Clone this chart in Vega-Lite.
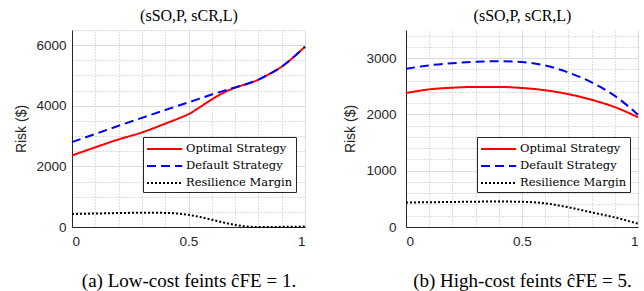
{
  "$schema": "https://vega.github.io/schema/vega-lite/v6.json",
  "padding": {"left": 14, "top": 7, "right": 5, "bottom": 0},
  "background": "white",
  "config": {
    "view": {"stroke": null},
    "axis": {"labelFont": "Liberation Sans", "labelFontSize": 13.5, "labelColor": "#262626", "titleFont": "Liberation Sans", "titleFontWeight": "normal", "titleColor": "#262626", "tickSize": 0, "domainColor": "#262626", "labelPadding": 7},
    "legend": {"labelFont": "DejaVu Serif", "labelFontSize": 11.5, "labelColor": "#000000", "fillColor": "white", "strokeColor": "#262626", "padding": 3, "rowPadding": 2, "symbolType": "M-1,0L3.4,0", "symbolSize": 256, "symbolStrokeWidth": 2, "symbolFillColor": "transparent", "labelOffset": 22, "cornerRadius": 0}
  },
  "datasets": {
    "a": [
      {"x": 0, "series": "Optimal Strategy", "risk": 2360},
      {"x": 0.1, "series": "Optimal Strategy", "risk": 2630},
      {"x": 0.2, "series": "Optimal Strategy", "risk": 2890},
      {"x": 0.3, "series": "Optimal Strategy", "risk": 3120},
      {"x": 0.35, "series": "Optimal Strategy", "risk": 3260},
      {"x": 0.4, "series": "Optimal Strategy", "risk": 3410},
      {"x": 0.45, "series": "Optimal Strategy", "risk": 3560},
      {"x": 0.5, "series": "Optimal Strategy", "risk": 3724},
      {"x": 0.55, "series": "Optimal Strategy", "risk": 3960},
      {"x": 0.6, "series": "Optimal Strategy", "risk": 4210},
      {"x": 0.65, "series": "Optimal Strategy", "risk": 4430},
      {"x": 0.7, "series": "Optimal Strategy", "risk": 4598},
      {"x": 0.75, "series": "Optimal Strategy", "risk": 4720},
      {"x": 0.8, "series": "Optimal Strategy", "risk": 4860},
      {"x": 0.85, "series": "Optimal Strategy", "risk": 5060},
      {"x": 0.9, "series": "Optimal Strategy", "risk": 5290},
      {"x": 0.95, "series": "Optimal Strategy", "risk": 5600},
      {"x": 1, "series": "Optimal Strategy", "risk": 5950},
      {"x": 0, "series": "Default Strategy", "risk": 2800},
      {"x": 0.1, "series": "Default Strategy", "risk": 3070},
      {"x": 0.2, "series": "Default Strategy", "risk": 3340},
      {"x": 0.3, "series": "Default Strategy", "risk": 3600},
      {"x": 0.4, "series": "Default Strategy", "risk": 3860},
      {"x": 0.5, "series": "Default Strategy", "risk": 4113},
      {"x": 0.6, "series": "Default Strategy", "risk": 4370},
      {"x": 0.65, "series": "Default Strategy", "risk": 4490},
      {"x": 0.7, "series": "Default Strategy", "risk": 4605},
      {"x": 0.75, "series": "Default Strategy", "risk": 4720},
      {"x": 0.8, "series": "Default Strategy", "risk": 4860},
      {"x": 0.85, "series": "Default Strategy", "risk": 5060},
      {"x": 0.9, "series": "Default Strategy", "risk": 5290},
      {"x": 0.95, "series": "Default Strategy", "risk": 5600},
      {"x": 1, "series": "Default Strategy", "risk": 5950},
      {"x": 0, "series": "Resilience Margin", "risk": 430},
      {"x": 0.1, "series": "Resilience Margin", "risk": 445},
      {"x": 0.2, "series": "Resilience Margin", "risk": 460},
      {"x": 0.3, "series": "Resilience Margin", "risk": 470},
      {"x": 0.4, "series": "Resilience Margin", "risk": 465},
      {"x": 0.5, "series": "Resilience Margin", "risk": 400},
      {"x": 0.55, "series": "Resilience Margin", "risk": 330},
      {"x": 0.6, "series": "Resilience Margin", "risk": 240},
      {"x": 0.65, "series": "Resilience Margin", "risk": 150},
      {"x": 0.7, "series": "Resilience Margin", "risk": 70},
      {"x": 0.75, "series": "Resilience Margin", "risk": 15},
      {"x": 0.8, "series": "Resilience Margin", "risk": 0},
      {"x": 0.85, "series": "Resilience Margin", "risk": 0},
      {"x": 0.9, "series": "Resilience Margin", "risk": 5},
      {"x": 0.95, "series": "Resilience Margin", "risk": 10},
      {"x": 1, "series": "Resilience Margin", "risk": 15}
    ],
    "b": [
      {"x": 0, "series": "Optimal Strategy", "risk": 2380},
      {"x": 0.1, "series": "Optimal Strategy", "risk": 2445},
      {"x": 0.2, "series": "Optimal Strategy", "risk": 2475},
      {"x": 0.3, "series": "Optimal Strategy", "risk": 2488},
      {"x": 0.4, "series": "Optimal Strategy", "risk": 2488},
      {"x": 0.5, "series": "Optimal Strategy", "risk": 2470},
      {"x": 0.6, "series": "Optimal Strategy", "risk": 2430},
      {"x": 0.7, "series": "Optimal Strategy", "risk": 2360},
      {"x": 0.8, "series": "Optimal Strategy", "risk": 2260},
      {"x": 0.9, "series": "Optimal Strategy", "risk": 2130},
      {"x": 1, "series": "Optimal Strategy", "risk": 1950},
      {"x": 0, "series": "Default Strategy", "risk": 2810},
      {"x": 0.1, "series": "Default Strategy", "risk": 2872},
      {"x": 0.2, "series": "Default Strategy", "risk": 2910},
      {"x": 0.3, "series": "Default Strategy", "risk": 2935},
      {"x": 0.4, "series": "Default Strategy", "risk": 2945},
      {"x": 0.5, "series": "Default Strategy", "risk": 2930},
      {"x": 0.6, "series": "Default Strategy", "risk": 2870},
      {"x": 0.7, "series": "Default Strategy", "risk": 2745},
      {"x": 0.8, "series": "Default Strategy", "risk": 2570},
      {"x": 0.9, "series": "Default Strategy", "risk": 2330},
      {"x": 1, "series": "Default Strategy", "risk": 1995},
      {"x": 0, "series": "Resilience Margin", "risk": 435},
      {"x": 0.1, "series": "Resilience Margin", "risk": 440},
      {"x": 0.2, "series": "Resilience Margin", "risk": 445},
      {"x": 0.3, "series": "Resilience Margin", "risk": 450},
      {"x": 0.4, "series": "Resilience Margin", "risk": 452},
      {"x": 0.5, "series": "Resilience Margin", "risk": 448},
      {"x": 0.6, "series": "Resilience Margin", "risk": 420},
      {"x": 0.7, "series": "Resilience Margin", "risk": 350},
      {"x": 0.8, "series": "Resilience Margin", "risk": 260},
      {"x": 0.9, "series": "Resilience Margin", "risk": 170},
      {"x": 1, "series": "Resilience Margin", "risk": 60}
    ]
  },
  "spacing": 34,
  "hconcat": [
    {
      "width": 233,
      "height": 197,
      "data": {"name": "a"},
      "resolve": {"axis": {"x": "independent", "y": "independent"}},
      "layer": [
        {
          "mark": {"type": "line", "opacity": 0},
          "encoding": {
            "x": {"field": "x", "type": "quantitative", "scale": {"domain": [0, 1], "nice": false}, "axis": {"orient": "top", "values": [0.1, 0.2, 0.3, 0.4, 0.6, 0.7, 0.8, 0.9], "grid": true, "gridDash": [1, 2], "gridColor": "#bdbdbd", "labels": false, "ticks": false, "domain": false, "title": "(sSO,P, sCR,L)", "titleFont": "Liberation Serif", "titleFontWeight": "normal", "titleFontSize": 16, "titleColor": "#000000", "titlePadding": 7}},
            "y": {"field": "risk", "type": "quantitative", "scale": {"domain": [0, 6500], "nice": false}, "axis": {"orient": "left", "values": [500, 1000, 1500, 2500, 3000, 3500, 4500, 5000, 5500, 6500], "grid": true, "gridDash": [1, 2], "gridColor": "#bdbdbd", "labels": false, "ticks": false, "domain": false, "title": null}},
            "detail": {"field": "series"}
          }
        },
        {
          "mark": {"type": "line", "strokeWidth": 2, "interpolate": "monotone"},
          "encoding": {
            "x": {"field": "x", "type": "quantitative", "axis": {"orient": "bottom", "values": [0, 0.5, 1], "grid": true, "gridColor": "#dcdcdc", "title": "(a) Low-cost feints ĉFE = 1.", "titleFont": "Liberation Serif", "titleFontSize": 19, "titleColor": "#000000", "titlePadding": 24, "format": "~g"}},
            "y": {"field": "risk", "type": "quantitative", "axis": {"orient": "left", "values": [0, 2000, 4000, 6000], "grid": true, "gridColor": "#dcdcdc", "title": "Risk ($)", "titleFontSize": 14, "titlePadding": 7, "labelPadding": 6, "format": "d"}},
            "color": {"field": "series", "type": "nominal", "scale": {"domain": ["Optimal Strategy", "Default Strategy", "Resilience Margin"], "range": ["#ff0000", "#0000ff", "#000000"]}, "legend": {"title": null, "orient": "none", "legendX": 71, "legendY": 107}},
            "strokeDash": {"field": "series", "type": "nominal", "scale": {"domain": ["Optimal Strategy", "Default Strategy", "Resilience Margin"], "range": [[1, 0], [9, 5], [2, 2]]}, "legend": {"title": null, "orient": "none", "legendX": 71, "legendY": 107}}
          }
        }
      ]
    },
    {
      "width": 232,
      "height": 197,
      "data": {"name": "b"},
      "resolve": {"axis": {"x": "independent", "y": "independent"}},
      "layer": [
        {
          "mark": {"type": "line", "opacity": 0},
          "encoding": {
            "x": {"field": "x", "type": "quantitative", "scale": {"domain": [0, 1], "nice": false}, "axis": {"orient": "top", "values": [0.1, 0.2, 0.3, 0.4, 0.6, 0.7, 0.8, 0.9], "grid": true, "gridDash": [1, 2], "gridColor": "#bdbdbd", "labels": false, "ticks": false, "domain": false, "title": "(sSO,P, sCR,L)", "titleFont": "Liberation Serif", "titleFontWeight": "normal", "titleFontSize": 16, "titleColor": "#000000", "titlePadding": 7}},
            "y": {"field": "risk", "type": "quantitative", "scale": {"domain": [0, 3500], "nice": false}, "axis": {"orient": "left", "values": [200, 400, 600, 800, 1200, 1400, 1600, 1800, 2200, 2400, 2600, 2800, 3200, 3400], "grid": true, "gridDash": [1, 2], "gridColor": "#bdbdbd", "labels": false, "ticks": false, "domain": false, "title": null}},
            "detail": {"field": "series"}
          }
        },
        {
          "mark": {"type": "line", "strokeWidth": 2, "interpolate": "monotone"},
          "encoding": {
            "x": {"field": "x", "type": "quantitative", "axis": {"orient": "bottom", "values": [0, 0.5, 1], "grid": true, "gridColor": "#dcdcdc", "title": "(b) High-cost feints ĉFE = 5.", "titleFont": "Liberation Serif", "titleFontSize": 19, "titleColor": "#000000", "titlePadding": 24, "format": "~g"}},
            "y": {"field": "risk", "type": "quantitative", "axis": {"orient": "left", "values": [0, 1000, 2000, 3000], "grid": true, "gridColor": "#dcdcdc", "title": "Risk ($)", "titleFontSize": 14, "titlePadding": 8, "labelPadding": 10, "format": "d"}},
            "color": {"field": "series", "type": "nominal", "scale": {"domain": ["Optimal Strategy", "Default Strategy", "Resilience Margin"], "range": ["#ff0000", "#0000ff", "#000000"]}, "legend": {"title": null, "orient": "none", "legendX": 71, "legendY": 107}},
            "strokeDash": {"field": "series", "type": "nominal", "scale": {"domain": ["Optimal Strategy", "Default Strategy", "Resilience Margin"], "range": [[1, 0], [9, 5], [2, 2]]}, "legend": {"title": null, "orient": "none", "legendX": 71, "legendY": 107}}
          }
        }
      ]
    }
  ],
  "resolve": {"scale": {"color": "independent", "strokeDash": "independent"}, "legend": {"color": "independent", "strokeDash": "independent"}}
}
